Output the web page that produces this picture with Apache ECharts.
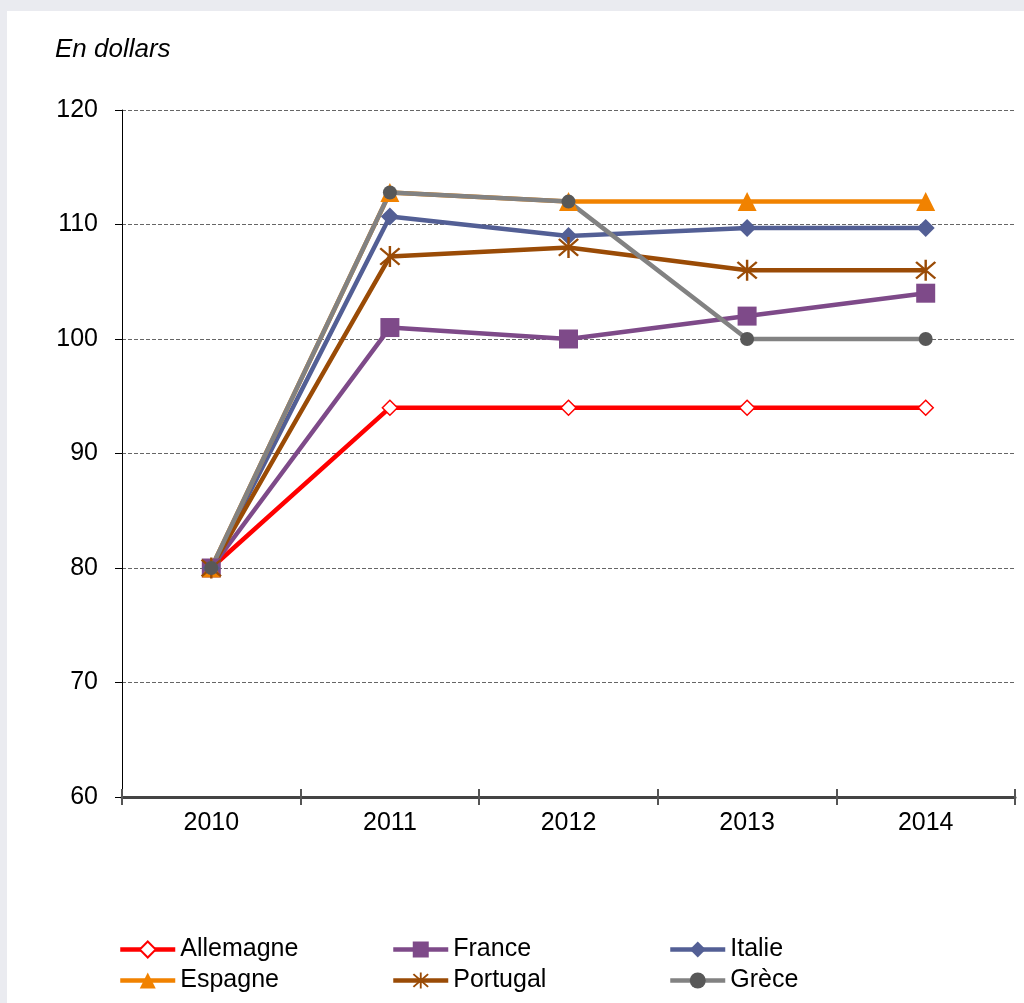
<!DOCTYPE html>
<html>
<head>
<meta charset="utf-8">
<script src="https://cdn.jsdelivr.net/npm/echarts@6/dist/echarts.min.js"></script>
<style>
  body { margin: 0; background: #eaebf0; }
  #chart { position: absolute; left: 7px; top: 11px; width: 1017px; height: 992px; background: #fff; }
</style>
</head>
<body>
<div id="chart"></div>
<script>
const years = ['2010', '2011', '2012', '2013', '2014'];
const allemagne = [80, 94, 94, 94, 94];
const france = [80, 101, 100, 102, 104];
const italie = [80, 110.7, 109, 109.7, 109.7];
const espagne = [80, 112.8, 112, 112, 112];
const portugal = [80, 107.2, 108, 106, 106];
const grece = [80, 112.8, 112, 100, 100];

const font = 'Liberation Sans, Arial, sans-serif';
// asterisk made of three thin bars
const asterisk = 'path://M9,0L11,0L11,20L9,20Z M1.4,2.8L2.8,1.4L18.6,17.2L17.2,18.6Z M17.2,1.4L18.6,2.8L2.8,18.6L1.4,17.2Z';

function line(name, data, color, symbol, size, extra) {
  return Object.assign({
    name: name,
    type: 'line',
    data: data,
    symbol: symbol,
    symbolSize: size,
    lineStyle: { color: color, width: 4.5 },
    itemStyle: { color: color },
    emphasis: { disabled: true }
  }, extra || {});
}

const myChart = echarts.init(document.getElementById('chart'));
const legendBase = {
  orient: 'vertical',
  top: 921,
  itemWidth: 55,
  itemHeight: 20,
  itemGap: 6,
  lineStyle: { width: 4.5 },
  textStyle: { fontFamily: font, fontSize: 25, color: '#000' }
};

myChart.setOption({
  animation: false,
  title: {
    text: 'En dollars',
    left: 43,
    top: 21,
    textStyle: { fontFamily: font, fontSize: 26, fontStyle: 'italic', fontWeight: 'normal', color: '#000' }
  },
  legend: [
    Object.assign({ left: 106, data: ['Allemagne', 'Espagne'] }, legendBase),
    Object.assign({ left: 379, data: ['France', 'Portugal'] }, legendBase),
    Object.assign({ left: 656, data: ['Italie', 'Grèce'] }, legendBase)
  ],
  grid: { left: 115, right: 9, top: 99, bottom: 206 },
  xAxis: [
    {
      type: 'category',
      data: years,
      boundaryGap: true,
      axisLine: { lineStyle: { color: '#444', width: 3 } },
      axisTick: { show: true, length: 8, lineStyle: { color: '#555', width: 2 } },
      axisLabel: { margin: 14, fontFamily: font, fontSize: 25, color: '#000' }
    },
    {
      type: 'category',
      data: years,
      position: 'bottom',
      boundaryGap: true,
      axisLine: { show: false },
      axisTick: { show: true, inside: true, length: 8, lineStyle: { color: '#555', width: 2 } },
      axisLabel: { show: false }
    }
  ],
  yAxis: {
    type: 'value',
    min: 60,
    max: 120,
    interval: 10,
    axisLine: { show: true, lineStyle: { color: '#000', width: 1 } },
    axisTick: { show: true, length: 7, lineStyle: { color: '#000' } },
    axisLabel: { margin: 24, fontFamily: font, fontSize: 25, color: '#000' },
    splitLine: { lineStyle: { color: '#666', type: [4, 2], width: 1 } }
  },
  series: [
    line('Allemagne', allemagne, '#ff0000', 'diamond', 15, {
      itemStyle: { color: '#fff', borderColor: '#ff0000', borderWidth: 1.5 }
    }),
    line('France', france, '#7e4a89', 'rect', 19),
    line('Italie', italie, '#535f95', 'diamond', 18),
    line('Espagne', espagne, '#f18200', 'triangle', 19),
    line('Portugal', portugal, '#9a4b06', asterisk, 21),
    line('Grèce', grece, '#828282', 'circle', 14, {
      itemStyle: { color: '#585858' }
    })
  ]
});
</script>
</body>
</html>
